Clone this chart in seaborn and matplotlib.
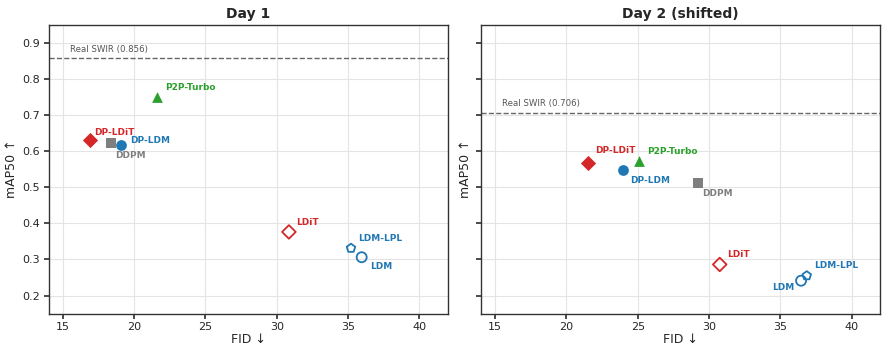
import numpy as np
import pandas as pd
import matplotlib
matplotlib.use("Agg")
import matplotlib.pyplot as plt
import seaborn as sns

# ── data ──────────────────────────────────────────────────────────────────────
methods = ["DP-LDiT", "DDPM", "DP-LDM", "P2P-Turbo", "LDiT", "LDM-LPL", "LDM"]
fid_day1 = [16.9, 18.4, 19.05, 21.6, 30.85, 35.2, 35.95]
map_day1 = [0.631, 0.621, 0.617, 0.750, 0.376, 0.331, 0.306]
fid_day2 = [21.55, 29.2, 24.0, 25.1, 30.75, 36.85, 36.45]
map_day2 = [0.568, 0.512, 0.548, 0.573, 0.286, 0.255, 0.241]
real_swir = [0.856, 0.706]
titles = ["Day 1", "Day 2 (shifted)"]

# ── styles ────────────────────────────────────────────────────────────────────
RED, BLUE, GREEN, GRAY = "#d62728", "#1f77b4", "#2ca02c", "#7f7f7f"
style = {
    "DP-LDiT":   dict(marker="D", color=RED,   filled=True,  s=60),
    "DDPM":      dict(marker="s", color=GRAY,  filled=True,  s=55),
    "DP-LDM":    dict(marker="o", color=BLUE,  filled=True,  s=60),
    "P2P-Turbo": dict(marker="^", color=GREEN, filled=True,  s=60),
    "LDiT":      dict(marker="D", color=RED,   filled=False, s=48),
    "LDM-LPL":   dict(marker="p", color=BLUE,  filled=False, s=42),
    "LDM":       dict(marker="o", color=BLUE,  filled=False, s=52),
}
# label offsets (points) and alignment per panel
offsets = [
    {"DP-LDiT": (3, 5, "left"), "DDPM": (3, -9, "left"), "DP-LDM": (7, 3, "left"),
     "P2P-Turbo": (6, 7, "left"), "LDiT": (5, 7, "left"), "LDM-LPL": (5, 7, "left"),
     "LDM": (6, -7, "left")},
    {"DP-LDiT": (5, 9, "left"), "DDPM": (3, -8, "left"), "DP-LDM": (5, -8, "left"),
     "P2P-Turbo": (6, 7, "left"), "LDiT": (5, 7, "left"), "LDM-LPL": (5, 7, "left"),
     "LDM": (-5, -5, "right")},
]

sns.set_theme(style="ticks")
plt.rcParams["font.family"] = ["DejaVu Sans"]

fig, axes = plt.subplots(1, 2, figsize=(8.82, 3.5), dpi=100, sharey=True)
fig.subplots_adjust(left=0.055, right=0.998, bottom=0.104, top=0.93, wspace=0.082)

panels = [(fid_day1, map_day1), (fid_day2, map_day2)]
for i, ax in enumerate(axes):
    df = pd.DataFrame({"method": methods, "fid": panels[i][0], "map": panels[i][1]})
    for _, row in df.iterrows():
        st = style[row.method]
        sub = df[df.method == row.method]
        sns.scatterplot(data=sub, x="fid", y="map", ax=ax, marker=st["marker"], s=st["s"],
                        facecolor=st["color"] if st["filled"] else "none",
                        edgecolor=st["color"], linewidth=0 if st["filled"] else 1.3,
                        zorder=3, legend=False)
        dx, dy, ha = offsets[i][row.method]
        ax.annotate(row.method, (row.fid, row["map"]), xytext=(dx, dy),
                    textcoords="offset points", ha=ha, va="center",
                    fontsize=6.5, fontweight="bold", color=st["color"])

    ax.axhline(real_swir[i], color="#666666", ls="--", lw=1, zorder=2)
    ax.text(15.5, real_swir[i] + 0.012, f"Real SWIR ({real_swir[i]:.3f})",
            fontsize=6.2, color="#555555", va="bottom")

    ax.set_xlim(14, 42)
    ax.set_ylim(0.15, 0.95)
    ax.set_xticks(np.arange(15, 41, 5))
    ax.set_yticks(np.arange(0.2, 0.91, 0.1))
    ax.grid(True, color="#e4e4e4", lw=0.8)
    ax.set_axisbelow(True)
    ax.set_title(titles[i], fontsize=10, fontweight="bold", pad=5)
    ax.set_xlabel("FID ↓", fontsize=9, labelpad=1)
    ax.set_ylabel("mAP50 ↑", fontsize=9, labelpad=3)
    ax.tick_params(labelsize=8, length=3.5, pad=2.5, color="#333333")
    for sp in ax.spines.values():
        sp.set_color("#333333")
        sp.set_linewidth(1.0)

axes[1].yaxis.label.set_visible(True)
fig.savefig("out.png", dpi=100)
